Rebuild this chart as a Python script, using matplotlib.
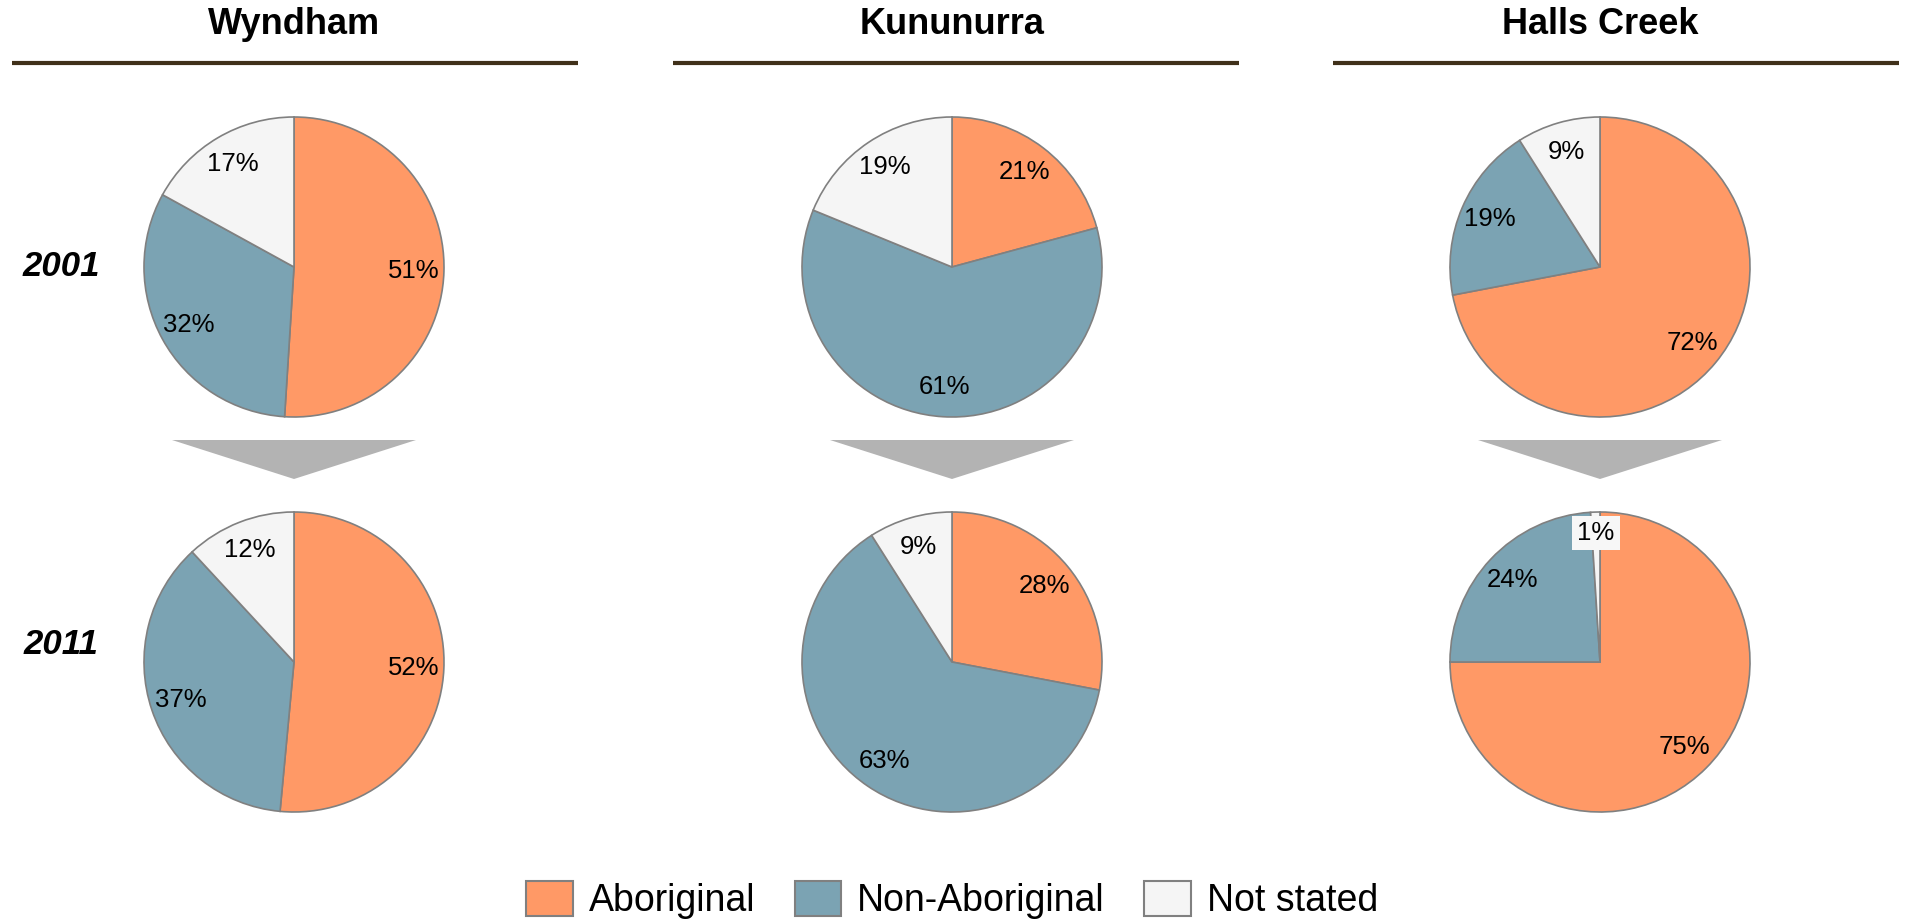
import numpy as np
import matplotlib
matplotlib.use('Agg')
import matplotlib.pyplot as plt
from matplotlib.patches import Polygon, Patch

plt.rcParams['font.family'] = ['Liberation Sans', 'DejaVu Sans']

# datos
pueblos = ['Wyndham', 'Kununurra', 'Halls Creek']
anios = ['2001', '2011']
categorias = ['Aboriginal', 'Non-Aboriginal', 'Not stated']
colores = ['#FF9966', '#7BA3B3', '#F5F5F5']

valores_2001 = [[51, 32, 17], [21, 61, 19], [72, 19, 9]]
valores_2011 = [[52, 37, 12], [28, 63, 9], [75, 24, 1]]

W, H = 1911, 919
fig = plt.figure(figsize=(W / 100, H / 100), dpi=100)

# ejes de fondo en pixeles para titulos, lineas y flechas
fondo = fig.add_axes([0, 0, 1, 1])
fondo.set_xlim(0, W)
fondo.set_ylim(H, 0)
fondo.axis('off')

centros_x = [294, 952, 1600]
centros_y = [267, 662]
radio = 150
medio = radio * 1.05

for i, pueblo in enumerate(pueblos):
    cx = centros_x[i]
    fondo.text(cx, 24, pueblo, ha='center', va='center', fontsize=26, fontweight='bold')
    x0 = 12 + i * 660.5
    fondo.plot([x0, x0 + 566], [63, 63], color='#40301a', lw=3, solid_capstyle='butt')
    fondo.add_patch(Polygon([[cx - 122, 440], [cx + 122, 440], [cx, 479]],
                            closed=True, facecolor='#b3b3b3', edgecolor='none'))

for j, anio in enumerate(anios):
    fondo.text(61, centros_y[j] - (0 if j == 0 else 17), anio, ha='center', va='center',
               fontsize=25, fontweight='bold', fontstyle='italic')

for j, datos in enumerate([valores_2001, valores_2011]):
    for i in range(len(pueblos)):
        cx, cy = centros_x[i], centros_y[j]
        ax = fig.add_axes([(cx - medio) / W, 1 - (cy + medio) / H, 2 * medio / W, 2 * medio / H])
        cunas, _ = ax.pie(datos[i], colors=colores, startangle=90, counterclock=False, radius=1,
                          wedgeprops=dict(edgecolor='#808080', linewidth=1.2))
        # pie cambia los limites, se ponen despues
        ax.set_xlim(-medio / radio, medio / radio)
        ax.set_ylim(-medio / radio, medio / radio)
        ax.axis('off')
        for cuna, v in zip(cunas, datos[i]):
            ang = np.deg2rad((cuna.theta1 + cuna.theta2) / 2)
            d = 0.86 if v < 5 else 0.8
            t = ax.text(d * np.cos(ang), d * np.sin(ang), f'{v}%', ha='center', va='center',
                        fontsize=18.5)
            if v < 5:
                t.set_bbox(dict(boxstyle='square,pad=0.2', facecolor='#f7f7f7', edgecolor='none'))

manijas = [Patch(facecolor=c, edgecolor='#808080', linewidth=1.5) for c in colores]
fig.legend(manijas, categorias, loc='center', bbox_to_anchor=(952 / W, 1 - 900 / H), ncol=3,
           frameon=False, fontsize=27, handlelength=1.25, handleheight=1.05,
           handletextpad=0.42, columnspacing=1.05, borderpad=0)

plt.savefig('out.png', dpi=100)
